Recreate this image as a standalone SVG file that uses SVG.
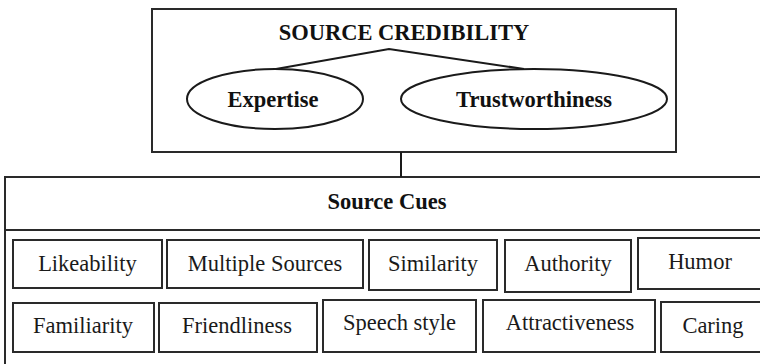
<svg xmlns="http://www.w3.org/2000/svg" width="760" height="364" viewBox="0 0 760 364">
<style>
.box{fill:none;stroke:#2a2a2a;stroke-width:2}
.ln{fill:none;stroke:#1a1a1a;stroke-width:2}
.b{font-family:"Liberation Serif","Times New Roman",serif;font-weight:bold;font-size:22.5px;fill:#111;text-anchor:middle}
.t{font-family:"Liberation Serif","Times New Roman",serif;font-size:22.5px;fill:#1a1a1a;text-anchor:middle}
</style>
<rect width="760" height="364" fill="#fff"/>
<g id="source-credibility">
<rect class="box" x="152" y="9" width="524" height="143"/>
<text class="b" x="404" y="40">SOURCE CREDIBILITY</text>
</g>
<g id="expertise">
<ellipse class="ln" cx="275" cy="99" rx="88" ry="30"/>
<text class="b" x="273" y="107">Expertise</text>
</g>
<g id="trustworthiness">
<ellipse class="ln" cx="534" cy="99" rx="133" ry="30"/>
<text class="b" x="534" y="107">Trustworthiness</text>
</g>
<g id="source-cues">
<rect class="box" x="5" y="177" width="770" height="200"/>
<line class="box" x1="5" y1="230" x2="770" y2="230"/>
<text class="b" x="387" y="209">Source Cues</text>
</g>
<g id="likeability"><rect class="box" x="13" y="240" width="149" height="48"/><text class="t" x="87.5" y="271">Likeability</text></g>
<g id="multiple-sources"><rect class="box" x="167" y="240" width="196" height="48"/><text class="t" x="265" y="271">Multiple Sources</text></g>
<g id="similarity"><rect class="box" x="369" y="240" width="128" height="50"/><text class="t" x="433" y="271">Similarity</text></g>
<g id="authority"><rect class="box" x="505" y="240" width="126" height="52"/><text class="t" x="568" y="271">Authority</text></g>
<g id="humor"><rect class="box" x="638" y="238" width="140" height="51"/><text class="t" x="700" y="269">Humor</text></g>
<g id="familiarity"><rect class="box" x="13" y="303" width="141" height="49"/><text class="t" x="83" y="333">Familiarity</text></g>
<g id="friendliness"><rect class="box" x="159" y="303" width="158" height="49"/><text class="t" x="237" y="333">Friendliness</text></g>
<g id="speech-style"><rect class="box" x="323" y="300" width="153" height="52"/><text class="t" x="399.5" y="330">Speech style</text></g>
<g id="attractiveness"><rect class="box" x="483" y="300" width="172" height="52"/><text class="t" x="570" y="330">Attractiveness</text></g>
<g id="caring"><rect class="box" x="661" y="302" width="117" height="50"/><text class="t" x="713" y="333">Caring</text></g>
<g id="connectors">
<polyline class="ln" points="276,69 389,49 524,69"/>
<line class="ln" x1="401" y1="152" x2="401" y2="177"/>
</g>
</svg>
